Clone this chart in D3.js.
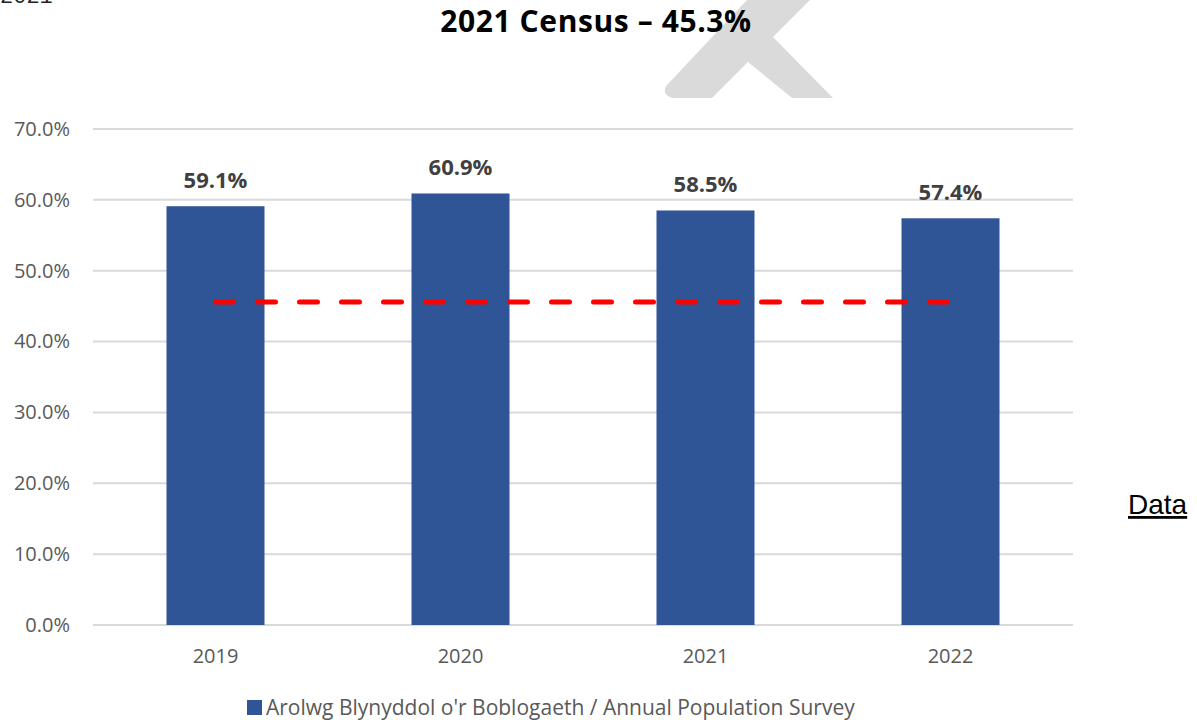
<!DOCTYPE html>
<html>
<head>
<meta charset="utf-8">
<script src="https://cdn.jsdelivr.net/npm/d3@7"></script>
<style>
  body { margin: 0; background: #fff; }
  svg { display: block; }
</style>
</head>
<body>
<div id="chart"></div>
<script>
const years = ["2019", "2020", "2021", "2022"];
const apsValues = [0.591, 0.609, 0.585, 0.574];
const censusLevel = [0.456];
const yTicks = [0, 0.1, 0.2, 0.3, 0.4, 0.5, 0.6, 0.7];
const titleText = "2021 Census \u2013 45.3%";
const legendText = "Arolwg Blynyddol o'r Boblogaeth / Annual Population Survey";

const width = 1197, height = 720;
const plot = { left: 93, right: 1073, top: 129, bottom: 625 };
const barColor = "#2f5597";
const font = "'Open Sans', sans-serif";

const svg = d3.select("#chart").append("svg")
    .attr("width", width)
    .attr("height", height);

svg.append("rect").attr("width", width).attr("height", height).attr("fill", "#fff");

// grey watermark shape, cut off at the top
svg.append("path")
    .attr("d", "M747,0 L810,0 L773,37 L833,98 L792,98 L748,62 L712,98 L673,98 Q662,96 666,86 Z")
    .attr("fill", "#dadada");

// leftover text at top-left corner
svg.append("text")
    .attr("x", 0).attr("y", 3)
    .style("font-family", "'Liberation Mono', monospace")
    .style("font-size", "22px")
    .attr("fill", "#222")
    .text("2021");

svg.append("text")
    .attr("x", 596).attr("y", 32)
    .attr("text-anchor", "middle")
    .style("font-family", font)
    .style("font-weight", "bold")
    .style("font-size", "30px")
    .style("letter-spacing", "0.6px")
    .attr("fill", "#000")
    .text(titleText);

const x = d3.scaleBand()
    .domain(years)
    .range([plot.left, plot.right])
    .paddingInner(0.6)
    .paddingOuter(0.3);

const y = d3.scaleLinear()
    .domain([0, 0.7])
    .range([plot.bottom, plot.top]);

// gridlines
svg.append("g")
    .selectAll("line")
    .data(yTicks)
    .join("line")
    .attr("x1", plot.left).attr("x2", plot.right)
    .attr("y1", d => y(d)).attr("y2", d => y(d))
    .attr("stroke", "#d9d9d9")
    .attr("stroke-width", 2);

// y axis labels
const yAxis = svg.append("g")
    .attr("transform", `translate(${plot.left},0)`)
    .call(d3.axisLeft(y).tickValues(yTicks).tickFormat(d3.format(".1%")).tickSize(0).tickPadding(23));
yAxis.select(".domain").remove();
yAxis.selectAll("text")
    .style("font-family", font)
    .style("font-size", "20px")
    .attr("fill", "#595959");

// bars
svg.append("g")
    .selectAll("rect")
    .data(years)
    .join("rect")
    .attr("x", d => x(d))
    .attr("width", x.bandwidth())
    .attr("y", (d, i) => y(apsValues[i]))
    .attr("height", (d, i) => y(0) - y(apsValues[i]))
    .attr("fill", barColor);

// value labels
svg.append("g")
    .selectAll("text")
    .data(years)
    .join("text")
    .attr("x", d => x(d) + x.bandwidth() / 2)
    .attr("y", (d, i) => y(apsValues[i]) - 18)
    .attr("text-anchor", "middle")
    .style("font-family", font)
    .style("font-weight", "bold")
    .style("font-size", "22px")
    .attr("fill", "#404040")
    .text((d, i) => d3.format(".1%")(apsValues[i]));

// x axis labels
const xAxis = svg.append("g")
    .attr("transform", `translate(0,${plot.bottom})`)
    .call(d3.axisBottom(x).tickSize(0).tickPadding(24));
xAxis.select(".domain").remove();
xAxis.selectAll("text")
    .style("font-family", font)
    .style("font-size", "20px")
    .attr("fill", "#595959");

// census dashed line
svg.append("line")
    .datum(censusLevel[0])
    .attr("x1", x(years[0]) + x.bandwidth() / 2)
    .attr("x2", x(years[years.length - 1]) + x.bandwidth() / 2)
    .attr("y1", d => y(d)).attr("y2", d => y(d))
    .attr("stroke", "#ff0000")
    .attr("stroke-width", 5)
    .attr("stroke-linecap", "round")
    .attr("stroke-dasharray", "18,24");

// legend
const legend = svg.append("g");
legend.append("rect")
    .attr("x", 247).attr("y", 700)
    .attr("width", 15).attr("height", 15)
    .attr("fill", barColor);
legend.append("text")
    .attr("x", 266).attr("y", 715)
    .style("font-family", font)
    .style("font-size", "21px")
    .attr("fill", "#595959")
    .text(legendText);

// "Data" link text
svg.append("text")
    .attr("x", 1128).attr("y", 514)
    .style("font-family", "'Liberation Sans', Arial, sans-serif")
    .style("font-size", "28px")
    .style("text-decoration", "underline")
    .attr("fill", "#000")
    .text("Data");
</script>
</body>
</html>
